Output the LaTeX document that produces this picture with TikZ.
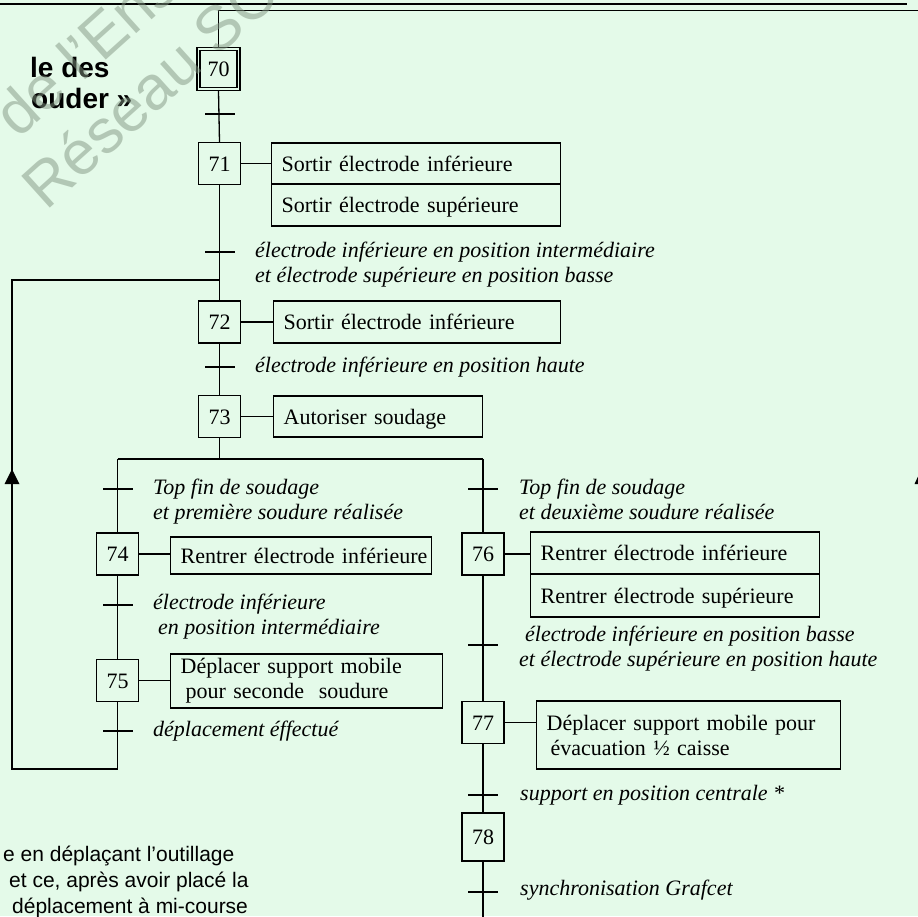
\documentclass[tikz,border=0pt]{standalone}
\usepackage{fontspec}
\setmainfont{Liberation Serif}
\setsansfont{Liberation Sans}
\definecolor{bg}{RGB}{228,250,233}
\definecolor{wmc}{RGB}{130,150,130}
\begin{document}
\begin{tikzpicture}[x=1pt,y=-1pt]
\tikzset{
 ln/.style={line width=1.3pt},
 stepbox/.style={draw, line width=1.3pt, minimum width=42pt, minimum height=42pt, inner sep=0pt, text height=15pt, text depth=0pt, font=\fontsize{22}{25}\selectfont},
 trbar/.style={fill=black, minimum width=30pt, minimum height=2.6pt, inner sep=0pt},
 actbox/.style={draw, line width=1.3pt, anchor=west, inner xsep=10pt, inner ysep=0pt, align=left, font=\fontsize{22}{25}\selectfont},
 act1/.style={actbox, text height=15pt, text depth=0pt},
 lbl/.style={anchor=west, inner sep=0pt, align=left, font=\fontsize{22}{25}\selectfont\itshape},
 pagetxt/.style={anchor=west, inner sep=0pt, font=\sffamily\fontsize{21}{25}\selectfont},
 titletxt/.style={anchor=west, inner sep=0pt, font=\sffamily\bfseries\fontsize{28}{30}\selectfont},
 wm/.style={rotate=42, anchor=base west, inner sep=0pt, text=wmc, text opacity=0.5, font=\sffamily\fontsize{62}{62}\selectfont}
}
\useasboundingbox (0,0) rectangle (918,916);
\fill[bg] (0,0) rectangle (918,916);
\clip (0,0) rectangle (918,916);

% page header line
\draw[line width=1.5pt] (0,4) -- (907,4);

% page text
\node[titletxt] (title1) at (30,67) {le des};
\node[titletxt] (title2) at (31,98) {ouder »};
\node[pagetxt] (b1) at (3,856) {e en déplaçant l'outillage};
\node[pagetxt] (b2) at (9,882) {et ce, après avoir placé la};
\node[pagetxt] (b3) at (12,908) {déplacement à mi-course};

% steps
\node[stepbox, minimum width=43pt, minimum height=43pt] (s70) at (218.5,69) {};
\node[stepbox, minimum width=37pt, minimum height=37pt] (s70i) at (218.5,69) {70};
\node[stepbox] (s71) at (219.5,163.5) {71};
\node[stepbox] (s72) at (219.5,322) {72};
\node[stepbox] (s73) at (219.5,416.5) {73};
\node[stepbox] (s74) at (117.5,554) {74};
\node[stepbox] (s75) at (117.5,680.5) {75};
\node[stepbox] (s76) at (483,554) {76};
\node[stepbox] (s77) at (483,722.5) {77};
\node[stepbox, minimum height=48pt] (s78) at (483,837) {78};

% actions
\node[act1, text width=269pt, minimum height=41pt] (a71a) at (271,163.5) {Sortir électrode inférieure};
\node[act1, text width=269pt, minimum height=42pt] (a71b) at (271,205) {Sortir électrode supérieure};
\node[act1, text width=267pt, minimum height=42pt] (a72) at (273,322) {Sortir électrode inférieure};
\node[act1, text width=189pt, minimum height=41pt] (a73) at (273,416.5) {Autoriser soudage};
\node[act1, text width=241pt, minimum height=37pt] (a74) at (170,555.5) {\mbox{Rentrer électrode inférieure}};
\node[actbox, text width=252pt, minimum height=54pt] (a75) at (170,681) {Déplacer support mobile\\\hspace*{5pt}pour seconde\ \ soudure};
\node[act1, text width=269pt, minimum height=42pt] (a76a) at (530,553) {Rentrer électrode inférieure};
\node[act1, text width=269pt, minimum height=43pt] (a76b) at (530,595.5) {Rentrer électrode supérieure};
\node[actbox, text width=284pt, minimum height=68pt] (a77) at (536,735) {Déplacer support mobile pour\\\hspace*{4pt}évacuation ½ caisse};

% links step-action
\draw[ln] (s71.east) -- (a71a.west);
\draw[ln] (s72.east) -- (a72.west);
\draw[ln] (s73.east) -- (a73.west);
\draw[ln] (s74.east) -- (a74.west |- s74.east);
\draw[ln] (s75.east) -- (a75.west |- s75.east);
\draw[ln] (s76.east) -- (a76a.west |- s76.east);
\draw[ln] (s77.east) -- (a77.west |- s77.east);

% coordinates
\coordinate (topL) at (218.5,10.5);
\coordinate (topR) at (930,10.5);
\coordinate (join) at (219.5,280);
\coordinate (loopTL) at (12,280);
\coordinate (loopBL) at (12,769);
\coordinate (loopBR) at (117.5,769);
\coordinate (divC) at (219.5,459);
\coordinate (divL) at (117.5,459);
\coordinate (divR) at (483,459);
\coordinate (botR) at (483,930);

% vertical links
\draw[ln] (s70.north) -- (topL) -- (topR);
\draw[ln] (s70.south) -- (s71.north);
\draw[ln] (s71.south) -- (s72.north);
\draw[ln] (s72.south) -- (s73.north);
\draw[ln] (s73.south) -- (divC);
\draw[ln] (divL) -- (divR);
\draw[ln] (divL) -- (s74.north);
\draw[ln] (s74.south) -- (s75.north);
\draw[ln] (s75.south) -- (loopBR) -- (loopBL) -- (loopTL) -- (join);
\draw[ln] (divR) -- (s76.north);
\draw[ln] (s76.south) -- (s77.north);
\draw[ln] (s77.south) -- (s78.north);
\draw[ln] (s78.south) -- (botR);

% arrows
\fill (12,469) -- (4.5,484) -- (19.5,484) -- cycle;
\fill (922,468) -- (914.5,484) -- (929.5,484) -- cycle;

% transitions
\node[trbar] (t70) at (219.5,114) {};
\node[trbar] (t71) at (219.5,252) {};
\node[trbar] (t72) at (219.5,367) {};
\node[trbar] (t73a) at (117.5,489) {};
\node[trbar] (t74) at (117.5,605) {};
\node[trbar] (t75) at (117.5,731) {};
\node[trbar] (t73b) at (483,489) {};
\node[trbar] (t76) at (483,645) {};
\node[trbar] (t77) at (483,795) {};
\node[trbar] (t78) at (483,892) {};

% receptivities
\node[lbl] (l71) at (255,264.5) {électrode inférieure en position intermédiaire\\et électrode supérieure en position basse};
\node[lbl] (l72) at (255,367) {électrode inférieure en position haute};
\node[lbl] (l73a) at (153,501.5) {Top fin de soudage\\et première soudure réalisée};
\node[lbl] (l73b) at (519,499.5) {Top fin de soudage\\et deuxième soudure réalisée};
\node[lbl] (l74) at (153,616.5) {électrode inférieure\\\hspace*{5pt}en position intermédiaire};
\node[lbl] (l75) at (153,731) {déplacement éffectué};
\node[lbl] (l76) at (519,649) {\hspace*{6pt}électrode inférieure en position basse\\et électrode supérieure en position haute};
\node[lbl] (l77) at (520,795) {support en position centrale *};
\node[lbl] (l78) at (520,890) {synchronisation Grafcet};

% watermark
\node[wm] (wm1) at (18,140) {de l'Enseignement};
\node[wm] (wm2) at (46,212) {Réseau SCÉRÉN};
\end{tikzpicture}
\end{document}
